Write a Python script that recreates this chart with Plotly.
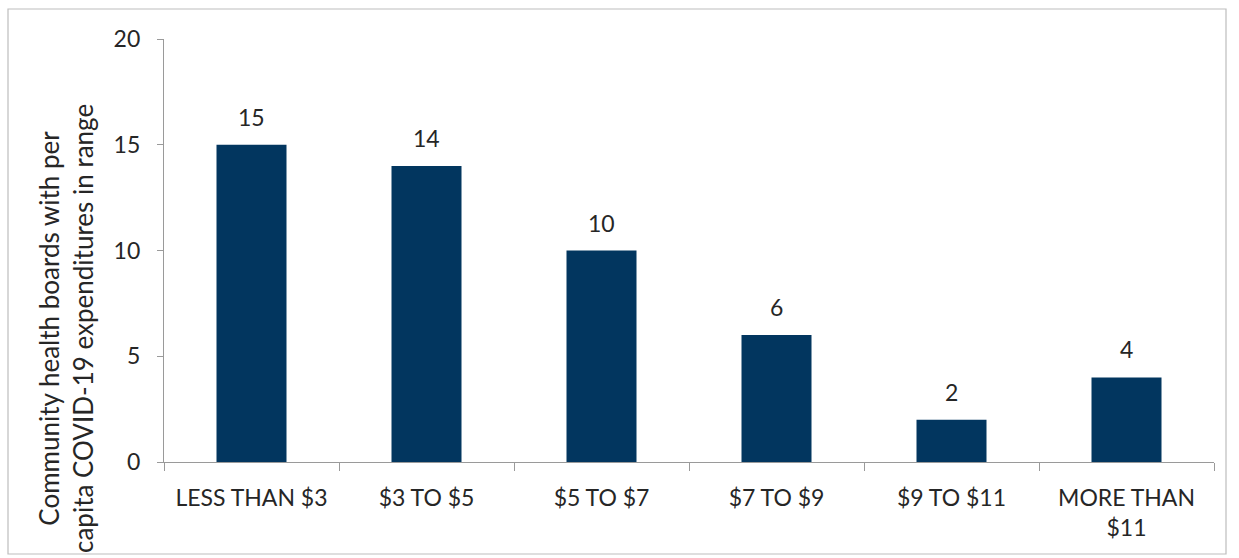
import plotly.graph_objects as go

categories = ["LESS THAN $3", "$3 TO $5", "$5 TO $7", "$7 TO $9", "$9 TO $11", "MORE THAN<br>$11"]
values = [15, 14, 10, 6, 2, 4]
y_ticks = [0, 5, 10, 15, 20]
y_title = "Community health boards with per<br>capita COVID-19 expenditures in range"

W, H = 1239, 558
L, R, T, B = 164, 25, 39, 96
pw, ph = W - L - R, H - T - B

FONT = "Lato"
TXT = "#262626"
AX = "#9a9a9a"

fig = go.Figure(go.Bar(
    x=categories, y=values,
    marker=dict(color="#02365F", line=dict(width=0)),
    width=0.4,
))

annotations = [
    dict(x=c, y=v, xref="x", yref="y", text=str(v), showarrow=False,
         yanchor="bottom", yshift=12, font=dict(family=FONT, size=23, color=TXT))
    for c, v in zip(categories, values)
]
annotations.append(dict(
    text=y_title, xref="paper", yref="paper",
    x=(66 - L) / pw, y=(462 - 329) / ph, xanchor="center", yanchor="middle",
    textangle=-90, showarrow=False, align="center",
    font=dict(family=FONT, size=26, color=TXT)))

fig.update_layout(
    width=W, height=H,
    margin=dict(l=L, r=R, t=T, b=B),
    paper_bgcolor="white", plot_bgcolor="white",
    showlegend=False,
    bargap=0.6,
    font=dict(family=FONT, size=23, color=TXT),
    annotations=annotations,
    shapes=[dict(type="rect", xref="paper", yref="paper",
                 x0=(8 - L) / pw, x1=(1226 - L) / pw,
                 y0=(462 - 554) / ph, y1=(462 - 9) / ph,
                 line=dict(color="#bdbdbd", width=1.2), fillcolor="rgba(0,0,0,0)",
                 layer="below")],
    xaxis=dict(
        showline=True, linecolor=AX, linewidth=1.3,
        ticks="outside", tickson="boundaries", ticklen=8, tickcolor=AX, tickwidth=1.3,
        showgrid=False, zeroline=False,
        ticklabelstandoff=15,
        tickfont=dict(family=FONT, size=23, color=TXT),
    ),
    yaxis=dict(
        range=[0, 20], tickvals=y_ticks,
        showline=True, linecolor=AX, linewidth=1.3,
        ticks="outside", ticklen=6, tickcolor=AX, tickwidth=1.3,
        showgrid=False, zeroline=False,
        ticklabelstandoff=12,
        tickfont=dict(family=FONT, size=23, color=TXT),
    ),
)

fig.write_html("out.html")
